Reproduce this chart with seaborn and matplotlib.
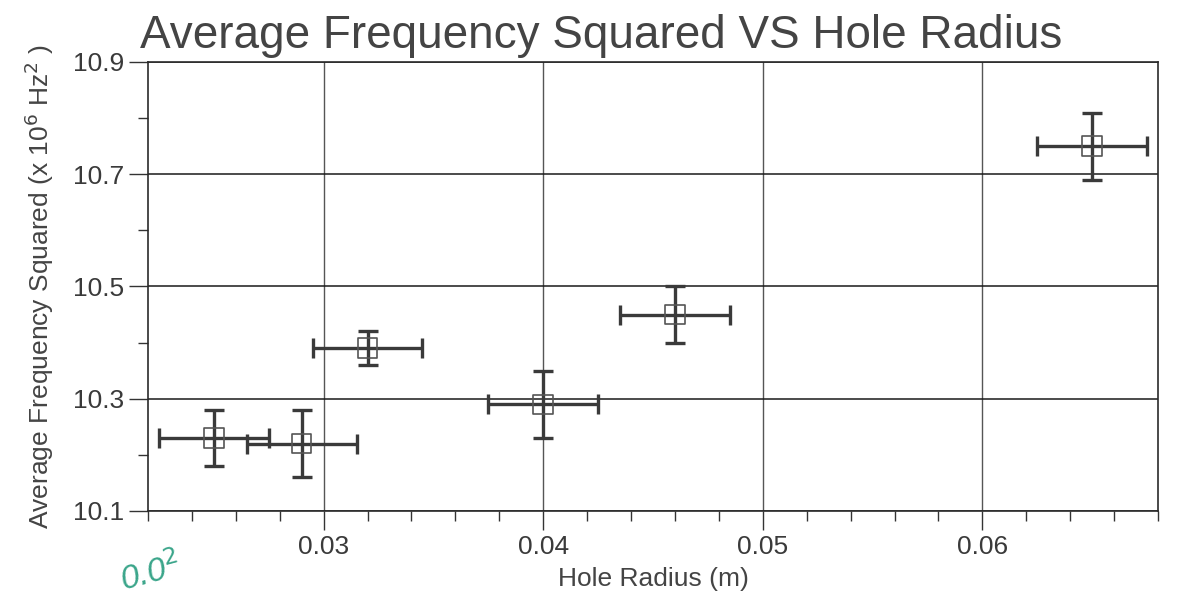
import matplotlib
matplotlib.use("Agg")
import matplotlib.pyplot as plt
import pandas as pd
import seaborn as sns
from matplotlib.ticker import MultipleLocator, FormatStrFormatter

# data
radius = [0.025, 0.029, 0.032, 0.040, 0.046, 0.065]
freq_sq = [10.23, 10.22, 10.39, 10.29, 10.45, 10.75]
radius_err = [0.0025, 0.0025, 0.0025, 0.0025, 0.0025, 0.0025]
freq_err = [0.05, 0.06, 0.03, 0.06, 0.05, 0.06]
y_major = [10.1, 10.3, 10.5, 10.7, 10.9]
y_minor = [10.2, 10.4, 10.6, 10.8]

df = pd.DataFrame({"radius": radius, "freq": freq_sq})

sns.set_style("ticks")
plt.rcParams['font.family'] = ['Liberation Sans', 'DejaVu Sans']

fig = plt.figure(figsize=(11.99, 6.06), dpi=100)
ax = fig.add_axes([0.1234, 0.1568, 0.8424, 0.7409])

# error bars first, then the open squares on top
ax.errorbar(radius, freq_sq, xerr=radius_err, yerr=freq_err, fmt='none',
            ecolor='#3a3a3a', elinewidth=2.4, capsize=7, capthick=2.4, zorder=3)
sns.scatterplot(data=df, x="radius", y="freq", ax=ax, marker='s', s=200,
                facecolor='none', edgecolor='#555555', linewidth=1.2, zorder=4)

ax.set_xlim(0.022, 0.068)
ax.set_ylim(10.1, 10.9)
ax.xaxis.set_major_locator(MultipleLocator(0.01))
ax.xaxis.set_minor_locator(MultipleLocator(0.002))
ax.set_yticks(y_major)
ax.set_yticks(y_minor, minor=True)
ax.xaxis.set_major_formatter(FormatStrFormatter('%.2f'))
ax.yaxis.set_major_formatter(FormatStrFormatter('%.1f'))

ax.xaxis.grid(True, which='major', color='#555555', linewidth=1.0)
ax.yaxis.grid(True, which='major', color='#1a1a1a', linewidth=1.1)
ax.tick_params(which='major', length=14, width=1.0, color='#333333',
               labelsize=19, labelcolor='#3a3a3a', pad=3)
ax.tick_params(which='minor', length=7, width=1.0, color='#333333')
for sp in ax.spines.values():
    sp.set_color('#2a2a2a')
    sp.set_linewidth(1.2)

ax.set_xlabel("Hole Radius (m)", fontsize=19, color='#444444', labelpad=6)
ax.set_ylabel("Average Frequency Squared (x 10$^6$ Hz$^2$ )", fontsize=19,
              color='#444444', labelpad=12)
fig.text(0.117, 0.94, "Average Frequency Squared VS Hole Radius",
         fontsize=33, color='#444444', ha='left', va='center')

# handwritten note under the axis
fig.text(0.097, 0.055, "0.0$^2$", fontsize=24, color='#3aa58a', rotation=15,
         style='italic', ha='left', va='center')

fig.savefig("out.png", dpi=100)
